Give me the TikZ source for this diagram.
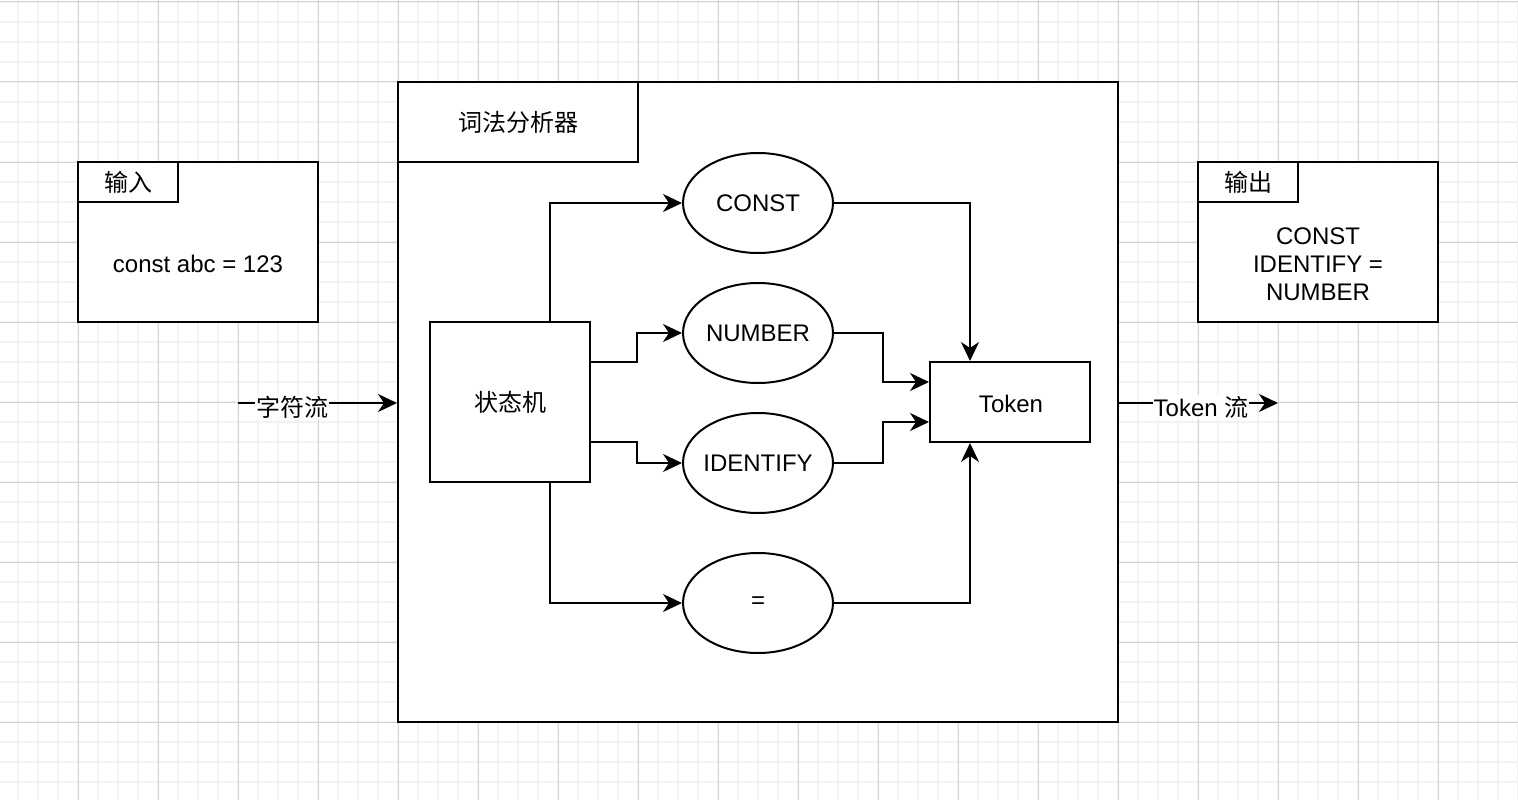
\documentclass[tikz,border=0pt]{standalone}
\usepackage{fontspec}
\setmainfont{Liberation Sans}
\newfontfamily\cjk{Noto Sans CJK SC}
\usetikzlibrary{shapes.geometric,arrows.meta,calc}
\definecolor{minorgrid}{HTML}{F2F2F2}
\definecolor{majorgrid}{HTML}{D4D4D4}
\tikzset{
  box/.style={draw=black, line width=2pt, fill=white, inner sep=0pt, font=\fontsize{24}{28}\selectfont, align=center},
  oval/.style={ellipse, draw=black, line width=2pt, fill=white, inner sep=0pt, minimum width=150pt, minimum height=100pt},
  ovaltext/.style={inner sep=0pt, font=\fontsize{24}{28}\selectfont},
  arr/.style={line width=2pt, -{Stealth[length=19pt, width=18pt, inset=6pt]}},
  lbl/.style={fill=white, inner sep=1pt, font=\fontsize{24}{28}\selectfont},
}
\begin{document}
\begin{tikzpicture}[x=1pt, y=-1pt]
\useasboundingbox (0,0) rectangle (1518,800);
\fill[white] (0,0) rectangle (1518,800);
% grid
\foreach \i in {0,...,76} {\draw[minorgrid, line width=1.6pt] ({-2+20*\i},0) -- ({-2+20*\i},800);}
\foreach \j in {0,...,40} {\draw[minorgrid, line width=1.6pt] (0,{2+20*\j}) -- (1518,{2+20*\j});}
\foreach \i in {0,...,19} {\draw[majorgrid, line width=1pt] ({-2+80*\i},0) -- ({-2+80*\i},800);}
\foreach \j in {0,...,10} {\draw[majorgrid, line width=1pt] (0,{2+80*\j}) -- (1518,{2+80*\j});}

% input box
\node[box, minimum width=240pt, minimum height=160pt] (in) at (198,242) {};
\node[box, minimum width=100pt, minimum height=40pt] (intab) at (128,182) {\cjk 输入};
\node[font=\fontsize{24}{28}\selectfont] (intext) at (198,264) {const abc = 123};

% output box
\node[box, minimum width=240pt, minimum height=160pt] (out) at (1318,242) {};
\node[box, minimum width=100pt, minimum height=40pt] (outtab) at (1248,182) {\cjk 输出};
\node[font=\fontsize{24}{28}\selectfont, align=center] (outtext) at (1318,264) {CONST\\IDENTIFY =\\NUMBER};

% main box
\node[box, minimum width=720pt, minimum height=640pt] (main) at (758,402) {};
\node[box, minimum width=240pt, minimum height=80pt] (maintab) at (518,122) {\cjk 词法分析器};

% state machine
\node[box, minimum width=160pt, minimum height=160pt] (sm) at (510,402) {\cjk 状态机};

% ellipses
\node[oval] (const) at (758,203) {};
\node[ovaltext] (constt) at (const) {CONST};
\node[oval] (number) at (758,333) {};
\node[ovaltext] (numbert) at (number) {NUMBER};
\node[oval] (ident) at (758,463) {};
\node[ovaltext] (identt) at (ident) {IDENTIFY};
\node[oval] (eq) at (758,603) {};
\node[ovaltext] (eqt) at (eq) {=};

% token
\node[box, minimum width=160pt, minimum height=80pt] (token) at (1010,402) {};
\node[ovaltext] (tokent) at (1011,404) {Token};

% connectors
\draw[arr] ([xshift=40pt]sm.north) |- (const.west);
\draw[arr] ([yshift=40pt]sm.east) -- ++(46,0) |- (number.west);
\draw[arr] ([yshift=-40pt]sm.east) -- ++(46,0) |- (ident.west);
\draw[arr] ([xshift=40pt]sm.south) |- (eq.west);

\draw[arr] (const.east) -| ([xshift=-40pt]token.north);
\draw[arr] (number.east) -- ++(49,0) |- ([yshift=20pt]token.west);
\draw[arr] (ident.east) -- ++(49,0) |- ([yshift=-20pt]token.west);
\draw[arr] (eq.east) -| ([xshift=-40pt]token.south);

% streams
\coordinate (s1) at (238,403);
\coordinate (s2) at (1278,403);
\draw[arr] (s1) -- (s1 -| main.west);
\node[lbl] (l1) at (292,407) {\cjk 字符流};
\draw[arr] (s2 -| main.east) -- (s2);
\node[lbl] (l2) at (1201,407) {Token {\cjk 流}};
\end{tikzpicture}
\end{document}
